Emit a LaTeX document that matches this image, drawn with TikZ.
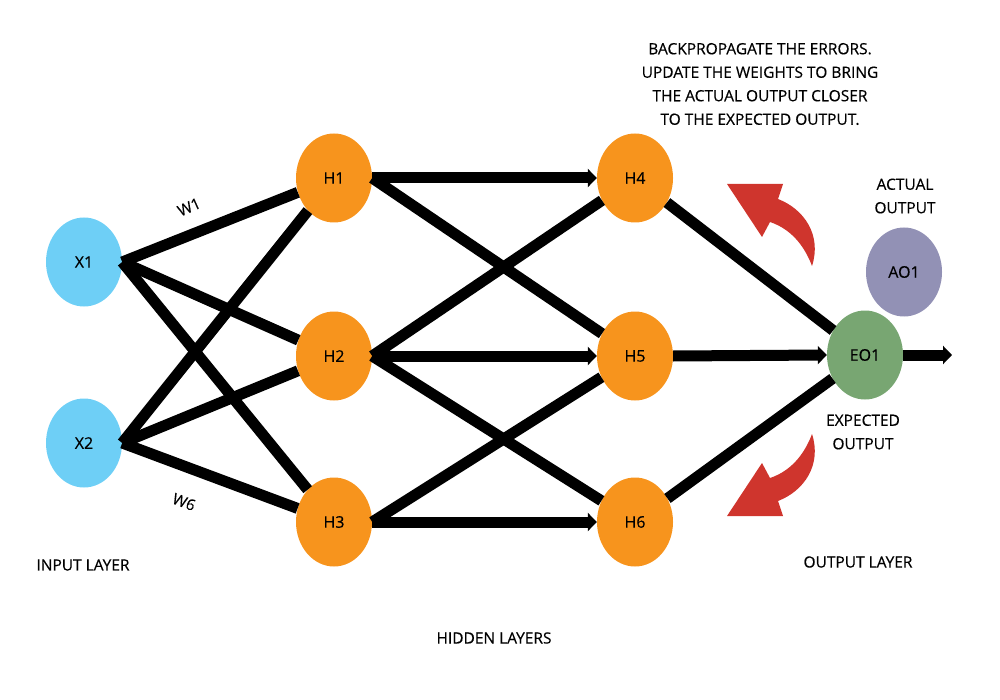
\documentclass[tikz,border=0pt]{standalone}
\usepackage{fontspec}
\setmainfont{Open Sans}[FakeBold=0.35]
\usetikzlibrary{shapes.geometric,arrows.meta}
\definecolor{inblue}{HTML}{6ECFF6}
\definecolor{hidorange}{HTML}{F7941D}
\definecolor{outgreen}{HTML}{78A672}
\definecolor{actpurple}{HTML}{9291B5}
\definecolor{backred}{HTML}{CF352D}
\begin{document}
\begin{tikzpicture}[x=1pt,y=1pt]
                \tikzstyle{every node}+=[inner sep=0pt]
                \tikzstyle{neuron}=[ellipse,minimum width=76pt,minimum height=89pt,font=\fontsize{16}{19}\selectfont]
                \tikzstyle{wire}=[line width=11pt]
                \tikzstyle{feed}=[wire,-{Triangle[length=9pt,width=18pt]}]
                \tikzstyle{caption}=[font=\fontsize{15.5}{23.5}\selectfont,align=center]
                \useasboundingbox (0,0) rectangle (1000,-700);
                % neurons
                \node [neuron,fill=inblue] (x1) at (84,-262) {X1};
                \node [neuron,fill=inblue] (x2) at (84,-443) {X2};
                \node [neuron,fill=hidorange] (h1) at (334,-178) {H1};
                \node [neuron,fill=hidorange] (h2) at (334,-356) {H2};
                \node [neuron,fill=hidorange] (h3) at (334,-522) {H3};
                \node [neuron,fill=hidorange] (h4) at (635,-178) {H4};
                \node [neuron,fill=hidorange] (h5) at (635,-356) {H5};
                \node [neuron,fill=hidorange] (h6) at (635,-522) {H6};
                \node [neuron,fill=outgreen] (eo1) at (865,-355) {EO1};
                \node [neuron,fill=actpurple] (ao1) at (904,-272) {AO1};
                \coordinate (out) at (952,-355);
                % weights
                \draw [wire] (x1.east) -- (h1);
                \draw [wire] (x1.east) -- (h2);
                \draw [wire] (x1.east) -- (h3);
                \draw [wire] (x2.east) -- (h1);
                \draw [wire] (x2.east) -- (h2);
                \draw [wire] (x2.east) -- (h3);
                \draw [feed] (h1.east) -- (h4.west);
                \draw [wire] (h1.east) -- (h5);
                \draw [wire] (h2.east) -- (h4);
                \draw [feed] (h2.east) -- (h5.west);
                \draw [wire] (h2.east) -- (h6);
                \draw [wire] (h3.east) -- (h5);
                \draw [feed] (h3.east) -- (h6.west);
                \draw [wire] (h4) -- (eo1);
                \draw [feed] (h5.east) -- (eo1.west);
                \draw [wire] (h6) -- (eo1);
                \draw [feed] (eo1.east) -- (out);
                % back arrows
                \fill [backred] (727,-184) -- (783,-184) -- (778,-199) .. controls (804,-209) and (822,-235) .. (812,-266)
                    .. controls (806,-250) and (794,-230) .. (770,-222) -- (762,-237) -- cycle;
                \fill [backred] (727,-516) -- (783,-516) -- (778,-501) .. controls (804,-491) and (822,-465) .. (812,-434)
                    .. controls (806,-450) and (794,-470) .. (770,-478) -- (762,-463) -- cycle;
                % labels
                \node [caption,rotate=24] (w1) at (189,-207) {W1};
                \node [caption,rotate=-21] (w6) at (184,-502) {W6};
                \node [caption] (note) at (760,-84) {BACKPROPAGATE THE ERRORS.\\UPDATE THE WEIGHTS TO BRING\\THE ACTUAL OUTPUT CLOSER\\TO THE EXPECTED OUTPUT.};
                \node [caption] (actual) at (905,-196) {ACTUAL\\OUTPUT};
                \node [caption] (expected) at (863,-432) {EXPECTED\\OUTPUT};
                \node [caption] (inlayer) at (83,-565) {INPUT LAYER};
                \node [caption] (outlayer) at (858,-562) {OUTPUT LAYER};
                \node [caption] (hidlayer) at (494,-638) {HIDDEN LAYERS};
            \end{tikzpicture}
\end{document}
